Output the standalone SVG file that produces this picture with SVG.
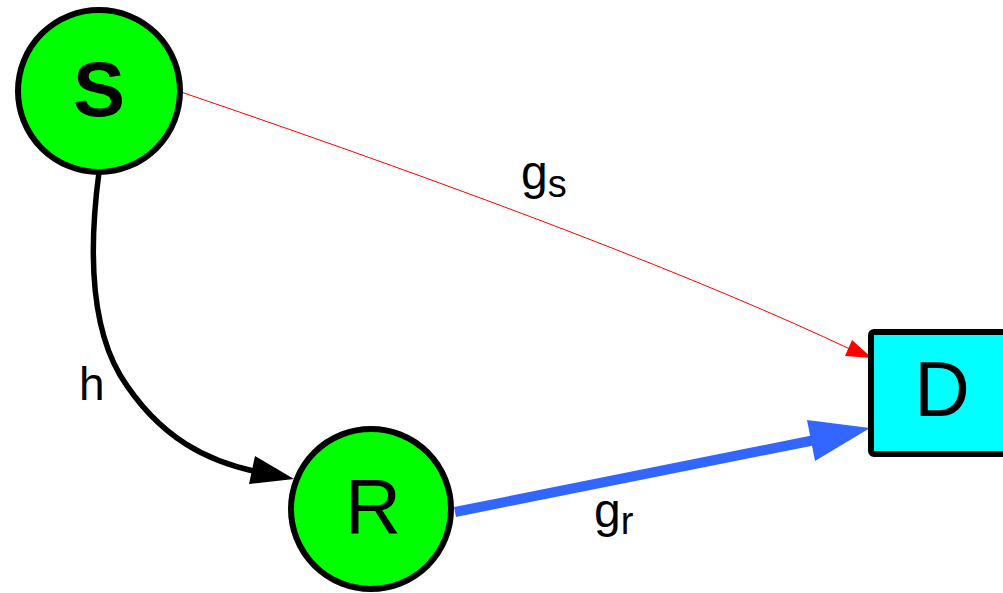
<svg xmlns="http://www.w3.org/2000/svg" width="1003" height="593" viewBox="0 0 1003 593">
<style>
.node{fill:#00ff00;stroke:#000;stroke-width:6}
.lbl{font-family:"Liberation Sans",Arial,sans-serif;fill:#000}
</style>
<rect width="1003" height="593" fill="#fff"/>
<g id="connectors">
<g id="e-s-r">
<path d="M99,172 C90,240 88,320 120,375 C160,440 210,462 258,472" fill="none" stroke="#000" stroke-width="5.5"/>
<polygon points="294,479 255,456 249,484" fill="#000"/>
</g>
<g id="e-s-d">
<path d="M181,92 Q630,245 852,350" fill="none" stroke="#ff0000" stroke-width="1"/>
<polygon points="872,358 852,340 845,356" fill="#ff0000"/>
</g>
<g id="e-r-d">
<path d="M455,512 L815,440" fill="none" stroke="#3366ff" stroke-width="10"/>
<polygon points="870,428 807,420 815,461" fill="#3366ff"/>
</g>
<text class="lbl" x="521" y="189" font-size="48">g<tspan font-size="38" dy="8">s</tspan></text>
<text class="lbl" x="594" y="527" font-size="48">g<tspan font-size="38" dy="7">r</tspan></text>
<text class="lbl" x="79" y="400" font-size="46">h</text>
</g>
<g id="S">
<circle class="node" cx="99" cy="91" r="81"/>
<text class="lbl" x="99" y="116" font-size="78" font-weight="bold" text-anchor="middle">S</text>
</g>
<g id="R">
<circle class="node" cx="371" cy="509" r="80"/>
<text class="lbl" x="373" y="533" font-size="78" text-anchor="middle">R</text>
</g>
<g id="D">
<rect x="871" y="332" width="140" height="122" rx="3" fill="#00ffff" stroke="#000" stroke-width="6"/>
<text class="lbl" x="942" y="416" font-size="77" text-anchor="middle">D</text>
</g>
</svg>
